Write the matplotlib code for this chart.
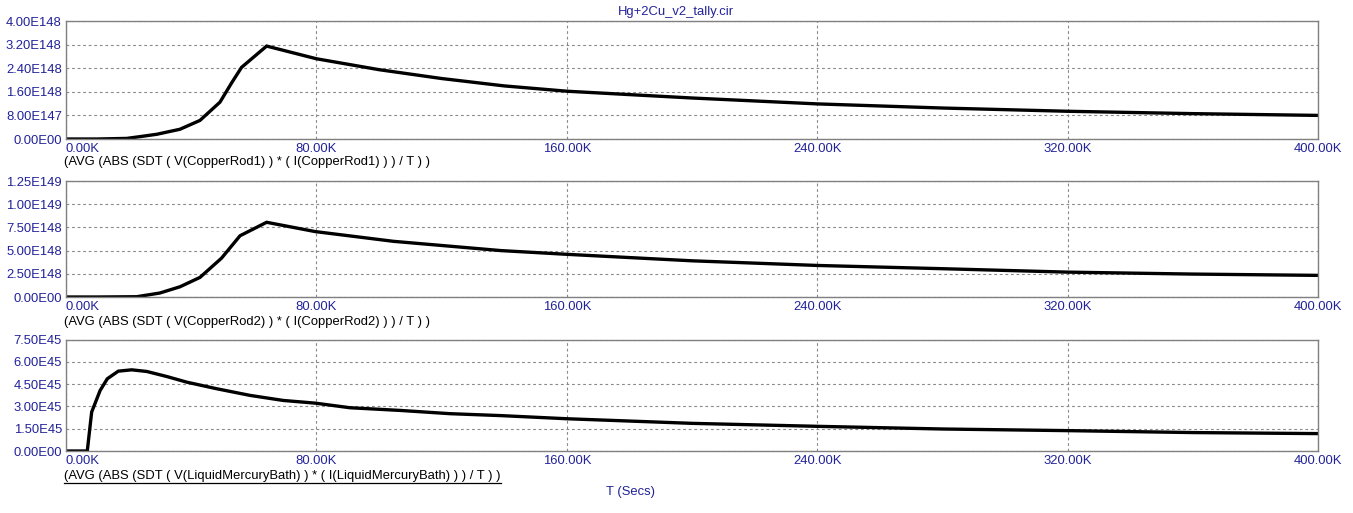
import numpy as np
import matplotlib
matplotlib.use("Agg")
import matplotlib.pyplot as plt
from matplotlib.lines import Line2D

plt.rcParams['font.family'] = ['Liberation Sans', 'DejaVu Sans']

# time axis in K seconds
t_rod1 = [0, 10, 19.4, 23.6, 29, 36.4, 42.8, 49.2, 52.9, 56.1, 64.1, 80, 100, 120, 140,
          160, 200, 240, 280, 320, 360, 400]
v_rod1 = [0, 0.0, 0.02, 0.08, 0.16, 0.33, 0.63, 1.25, 1.90, 2.43, 3.15, 2.72, 2.35, 2.05, 1.80,
          1.62, 1.39, 1.19, 1.05, 0.94, 0.86, 0.80]          # x 1E148

t_rod2 = [0, 10, 22.6, 30, 36.4, 42.8, 49.7, 55.6, 64.1, 79.6, 104.6, 139, 160, 200,
          240, 280, 320, 360, 400]
v_rod2 = [0, 0.0, 0.03, 0.43, 1.1, 2.11, 4.19, 6.6, 8.05, 7.05, 6.0, 5.0, 4.6, 3.9,
          3.4, 3.05, 2.68, 2.47, 2.33]                      # x 1E148

t_bath = [0, 6.8, 8.2, 10.9, 13.2, 16.7, 21, 25.8, 32.2, 38.6, 48.1, 58.8, 69.4, 79.6,
          90.7, 106.7, 122.7, 139, 160, 200, 240, 280, 320, 360, 400]
v_bath = [0, 0, 2.62, 4.07, 4.86, 5.37, 5.46, 5.35, 5.01, 4.63, 4.19, 3.74, 3.40, 3.22,
          2.91, 2.73, 2.51, 2.38, 2.17, 1.86, 1.66, 1.48, 1.37, 1.24, 1.17]   # x 1E45

x_ticks = [0, 80, 160, 240, 320, 400]
x_labels = ['0.00K', '80.00K', '160.00K', '240.00K', '320.00K', '400.00K']

y1_ticks = [0, 0.8, 1.6, 2.4, 3.2, 4.0]
y1_labels = ['0.00E00', '8.00E147', '1.60E148', '2.40E148', '3.20E148', '4.00E148']
y2_ticks = [0, 2.5, 5.0, 7.5, 10.0, 12.5]
y2_labels = ['0.00E00', '2.50E148', '5.00E148', '7.50E148', '1.00E149', '1.25E149']
y3_ticks = [0, 1.5, 3.0, 4.5, 6.0, 7.5]
y3_labels = ['0.00E00', '1.50E45', '3.00E45', '4.50E45', '6.00E45', '7.50E45']

trace_names = [
    '(AVG (ABS (SDT ( V(CopperRod1) ) * ( I(CopperRod1) ) ) / T ) )',
    '(AVG (ABS (SDT ( V(CopperRod2) ) * ( I(CopperRod2) ) ) / T ) )',
    '(AVG (ABS (SDT ( V(LiquidMercuryBath) ) * ( I(LiquidMercuryBath) ) ) / T ) )',
]

W, H = 1353, 513
blue = '#22229a'
fs = 9.4
fig = plt.figure(figsize=(W / 100, H / 100), dpi=100)

# panel boxes in pixels: (top, bottom)
boxes = [(21, 139), (181, 297), (339.5, 451)]
left_px, right_px = 66, 1318
label_y = [162, 322, 476]

series = [(t_rod1, v_rod1, y1_ticks, y1_labels),
          (t_rod2, v_rod2, y2_ticks, y2_labels),
          (t_bath, v_bath, y3_ticks, y3_labels)]

texts = []
for i, ((top, bot), (tt, vv, yt, yl)) in enumerate(zip(boxes, series)):
    ax = fig.add_axes([left_px / W, (H - bot) / H, (right_px - left_px) / W, (bot - top) / H])
    ax.plot(tt, vv, color='black', lw=2.4, solid_joinstyle='miter')
    ax.set_xlim(0, 400)
    ax.set_ylim(yt[0], yt[-1])
    ax.set_xticks(x_ticks)
    ax.set_xticklabels(x_labels)
    ax.set_yticks(yt)
    ax.set_yticklabels(yl)
    ax.tick_params(length=0, labelsize=fs, labelcolor=blue, pad=3)
    ax.get_xticklabels()[0].set_horizontalalignment('left')
    ax.grid(True, color='#8a8a8a', linestyle=(0, (2.5, 2.5)), linewidth=0.8)
    for s in ax.spines.values():
        s.set_color('#808080')
        s.set_linewidth(1.0)
    txt = fig.text(64 / W, 1 - label_y[i] / H, trace_names[i], fontsize=fs,
                   color='black', va='center', ha='left')
    texts.append(txt)

fig.text(676 / W, 1 - 12 / H, 'Hg+2Cu_v2_tally.cir', fontsize=fs, color=blue,
         ha='center', va='center')
fig.text(630 / W, 1 - 492 / H, 'T (Secs)', fontsize=fs, color=blue,
         ha='center', va='center')

# underline the last trace name
fig.canvas.draw()
bb = texts[-1].get_window_extent()
y_ul = bb.y0 - 1
fig.add_artist(Line2D([bb.x0 / W, bb.x1 / W], [y_ul / H, y_ul / H],
                      color='black', lw=0.9, transform=fig.transFigure))

fig.savefig('out.png', dpi=100)
